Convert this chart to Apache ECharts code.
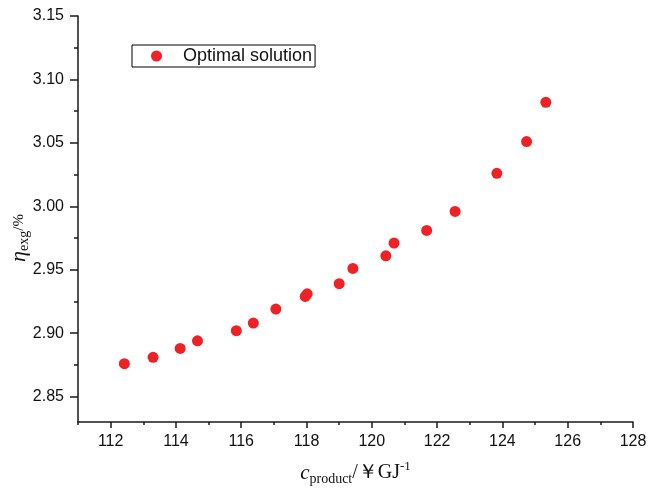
<!DOCTYPE html>
<html>
<head>
<meta charset="utf-8">
<script src="https://cdn.jsdelivr.net/npm/echarts@6/dist/echarts.min.js"></script>
<style>html,body{margin:0;padding:0;background:#fff}#c{width:649px;height:493px}</style>
</head>
<body>
<div id="c"></div>
<script>
const seriesName = 'Optimal solution';
const costX = [112.42, 113.30, 114.13, 114.66, 115.85, 116.37, 117.06, 117.96, 118.02, 119.00, 119.42, 120.43, 120.68, 121.68, 122.55, 123.83, 124.74, 125.33];
const effY  = [2.876, 2.881, 2.888, 2.894, 2.902, 2.908, 2.919, 2.929, 2.931, 2.939, 2.951, 2.961, 2.971, 2.981, 2.996, 3.026, 3.051, 3.082];
const xMajor = [112, 114, 116, 118, 120, 122, 124, 126, 128];
const xMinor = [111, 113, 115, 117, 119, 121, 123, 125, 127];
const yMajor = [2.85, 2.90, 2.95, 3.00, 3.05, 3.10, 3.15];
const yMinor = [2.875, 2.925, 2.975, 3.025, 3.075, 3.125];

const axisColor = '#1a1a1a';
const labelFont = {color: '#111', fontFamily: 'Liberation Sans, Arial', fontSize: 16};
const data = costX.map((x, i) => [x, effY[i]]);

const chart = echarts.init(document.getElementById('c'), null, {renderer: 'canvas'});
chart.setOption({
  animation: false,
  backgroundColor: '#fff',
  grid: {left: 78, right: 16, top: 16, bottom: 71, containLabel: false, outerBoundsMode: 'none'},
  legend: {
    left: 132, top: 45,
    data: [seriesName],
    icon: 'circle',
    itemWidth: 11, itemHeight: 11,
    padding: [2, 3, 2, 19],
    borderColor: '#000', borderWidth: 1,
    textStyle: {color: '#111', fontFamily: 'Liberation Sans, Arial', fontSize: 18, padding: [0, 0, 0, 16]}
  },
  xAxis: [{
    type: 'value', min: 111, max: 128,
    name: '{c|c}{sub|product}{n|/￥GJ}{sup|-1}',
    nameLocation: 'middle', nameGap: 38, nameMoveOverlap: false,
    nameTextStyle: {
      rich: {
        c: {fontFamily: 'Liberation Serif', fontStyle: 'italic', fontSize: 21, color: '#111', verticalAlign: 'middle', lineHeight: 26},
        sub: {fontFamily: 'Liberation Serif', fontSize: 14, color: '#111', verticalAlign: 'bottom', lineHeight: 12},
        n: {fontFamily: 'Liberation Serif', fontSize: 20, color: '#111', verticalAlign: 'middle', lineHeight: 26},
        sup: {fontFamily: 'Liberation Serif', fontSize: 13, color: '#111', verticalAlign: 'top', lineHeight: 14}
      }
    },
    axisLine: {show: true, onZero: false, lineStyle: {color: axisColor, width: 1.5}},
    axisTick: {show: true, length: 6, customValues: xMajor, lineStyle: {color: axisColor, width: 1.5}},
    axisLabel: {show: true, margin: 12, customValues: xMajor, ...labelFont},
    splitLine: {show: false}
  }, {
    type: 'value', min: 111, max: 128, position: 'bottom',
    axisLine: {show: false},
    axisTick: {show: true, length: 3, customValues: xMinor, lineStyle: {color: axisColor, width: 1.5}},
    axisLabel: {show: false},
    splitLine: {show: false}
  }],
  yAxis: [{
    type: 'value', min: 2.83, max: 3.15,
    name: '{e|η}{sub|exg}{sup|/%}',
    nameLocation: 'middle', nameGap: 47, nameRotate: 90, nameMoveOverlap: false,
    nameTextStyle: {
      padding: [0, 38, 0, 0],
      rich: {
        e: {fontFamily: 'Liberation Serif', fontStyle: 'italic', fontSize: 22, color: '#111', verticalAlign: 'middle', lineHeight: 24},
        sub: {fontFamily: 'Liberation Serif', fontSize: 14, color: '#111', verticalAlign: 'bottom', lineHeight: 12},
        sup: {fontFamily: 'Liberation Serif', fontSize: 15, color: '#111', verticalAlign: 'middle', lineHeight: 16}
      }
    },
    axisLine: {show: true, onZero: false, lineStyle: {color: axisColor, width: 1.5}},
    axisTick: {show: true, length: 8, customValues: yMajor, lineStyle: {color: axisColor, width: 1.5}},
    axisLabel: {show: true, margin: 14, customValues: yMajor, formatter: v => v.toFixed(2), ...labelFont},
    splitLine: {show: false}
  }, {
    type: 'value', min: 2.83, max: 3.15, position: 'left',
    axisLine: {show: false},
    axisTick: {show: true, length: 4, customValues: yMinor, lineStyle: {color: axisColor, width: 1.5}},
    axisLabel: {show: false},
    splitLine: {show: false}
  }],
  series: [{
    name: seriesName,
    type: 'scatter',
    xAxisIndex: 0, yAxisIndex: 0,
    data: data,
    symbol: 'circle',
    symbolSize: 11,
    itemStyle: {color: '#ee2226', opacity: 1}
  }]
});
</script>
</body>
</html>
